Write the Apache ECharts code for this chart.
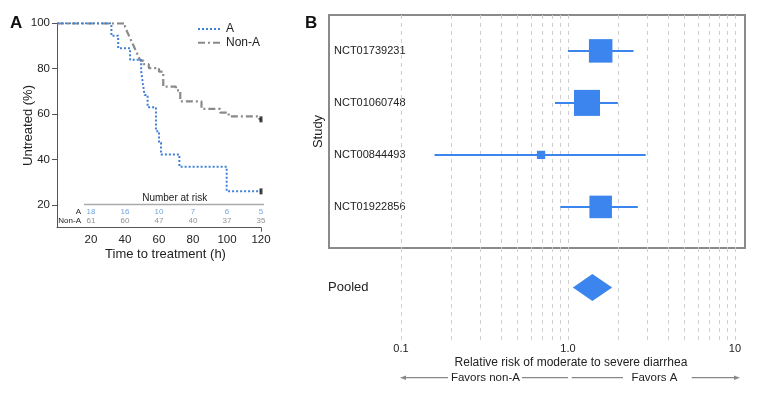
<!DOCTYPE html>
<html><head><meta charset="utf-8">
<script src="https://cdn.jsdelivr.net/npm/echarts@6/dist/echarts.min.js"></script>
<style>html,body{margin:0;padding:0;background:#fff}#c{width:760px;height:400px}</style>
</head><body><div id="c"></div>
<script>
// ---------- Panel A: Kaplan-Meier (time in h, % untreated after each event) ----------
const kmA = [[0,100],[32,94.5],[36,89],[43,84],[49.5,79],[50.5,73.5],[51.5,68.4],[53.3,63],[58.2,52.5],[60,47.5],[61.2,42.2],[72,36.8],[99.8,26],[120,26]];
const kmNonA = [[0,100],[40,98.4],[41,96.7],[42,95.1],[43,93.4],[44,91.8],[45,90.2],[46,88.5],[47,86.9],[48,85.2],[49,83.6],[51,82],[54,80.3],[60,78.7],[62.5,72.1],[70,70.5],[72.5,65.6],[85,62.3],[96,60.7],[101,59],[119,57.7],[120,57.7]];
const censorA = [[120,26]];
const censorNonA = [[120,57.7]];
const riskTimes = [20,40,60,80,100,120];
const riskA = [18,16,10,7,6,5];
const riskNonA = [61,60,47,40,37,35];
const kmYTicks = [20,40,60,80,100];
const kmXTicks = [20,40,60,80,100,120];

// ---------- Panel B: forest plot ----------
const studies = ['NCT01739231','NCT01060748','NCT00844493','NCT01922856'];
const studyRow = [1,2,3,4];
const rr = [1.57,1.30,0.69,1.57];
const rrLow = [1.00,0.836,0.159,0.90];
const rrHigh = [2.47,1.99,2.92,2.62];
const weights = [30.6,37.5,3.8,28.1];
const pooledEst = 1.40, pooledLow = 1.07, pooledHigh = 1.84;
const rrGridLines = [0.1,0.2,0.3,0.4,0.5,0.6,0.7,0.8,0.9,1,2,3,4,5,6,7,8,9,10];
const rrTicks = [0.1,1,10];
const rrTickText = {0.1:'0.1',1:'1.0',10:'10'};

const BLUE = '#3d85ee';
const KM_BLUE = '#3f80d8';
const KM_GRAY = '#8a8a8a';
const TXT = '#222';
const FONT = 'Liberation Sans, Arial, sans-serif';

const chart = echarts.init(document.getElementById('c'), null, {renderer:'canvas'});

const gridMark = (z) => ({
  type:'line', data:[], z:z, silent:true, animation:false,
  markLine:{silent:true, symbol:['none','none'], animation:false,
    label:{show:false},
    lineStyle:{type:[4,4], color:'#cfcfcf', width:1},
    data: rrGridLines.map(v=>({xAxis:v}))}
});

const logAxisBase = {type:'log', logBase:10, min:0.0371, max:11.48};

const option = {
  animation:false,
  backgroundColor:'#fff',
  textStyle:{fontFamily:FONT},
  legend:{
    data:['A','Non-A'], orient:'vertical', left:197, top:23, padding:0,
    itemWidth:23, itemHeight:12, itemGap:1.7,
    itemStyle:{opacity:0},
    textStyle:{fontSize:12, color:TXT}
  },
  grid:[
    {left:57, right:499, top:23.3, bottom:172.3},            // 0: KM
    {left:57, right:499, top:207, height:19},                 // 1: risk table
    {left:329, right:15, top:15, height:233, show:true, borderColor:'#8a8a8a', borderWidth:2}, // 2: studies box
    {left:329, right:15, top:248, height:92}                  // 3: pooled
  ],
  xAxis:[
    {gridIndex:0, type:'value', min:0, max:120,
      axisLine:{lineStyle:{color:'#555'}},
      axisTick:{customValues:[120], length:4, lineStyle:{color:'#555'}},
      axisLabel:{customValues:kmXTicks, fontSize:11.5, color:TXT, margin:6},
      splitLine:{show:false},
      name:'Time to treatment (h)', nameLocation:'middle', nameGap:20, nameMoveOverlap:false,
      nameTextStyle:{fontSize:13, color:TXT, padding:[0,0,0,13]}},
    {gridIndex:1, type:'value', min:0, max:120, show:false},
    Object.assign({gridIndex:2, show:false}, logAxisBase),
    Object.assign({gridIndex:3,
      axisLine:{show:false}, axisTick:{show:false}, splitLine:{show:false},
      axisLabel:{customValues:rrTicks, formatter:v=>rrTickText[v] || String(v), fontSize:11, color:TXT, margin:3},
      name:'Relative risk of moderate to severe diarrhea', nameLocation:'middle', nameGap:17, nameMoveOverlap:false,
      nameTextStyle:{fontSize:12, color:TXT, padding:[0,0,0,68]}}, logAxisBase)
  ],
  yAxis:[
    {gridIndex:0, type:'value', min:10, max:100,
      axisLine:{show:true, lineStyle:{color:'#555'}},
      axisTick:{show:true, customValues:kmYTicks, length:5, lineStyle:{color:'#555'}},
      axisLabel:{customValues:kmYTicks, fontSize:11.5, color:TXT, margin:7},
      splitLine:{show:false},
      name:'Untreated (%)', nameLocation:'middle', nameGap:22, nameMoveOverlap:false,
      nameTextStyle:{fontSize:13, color:TXT}},
    {gridIndex:1, type:'category', data:['A','Non-A'], inverse:true,
      axisLine:{show:false}, axisTick:{show:false},
      axisLabel:{fontSize:8, color:TXT, margin:-24, interval:0, hideOverlap:false}},
    {gridIndex:2, type:'value', inverse:true, min:0.31, max:4.79,
      axisLine:{show:false}, axisTick:{show:false}, splitLine:{show:false},
      axisLabel:{customValues:studyRow, formatter:v=>studies[v-1] || '', inside:true, margin:5, fontSize:11, color:TXT},
      name:'Study', nameLocation:'middle', nameGap:4, nameMoveOverlap:false,
      nameTextStyle:{fontSize:13, color:TXT}},
    {gridIndex:3, type:'value', inverse:true, min:0, max:2.33,
      axisLine:{show:false}, axisTick:{show:false}, splitLine:{show:false},
      axisLabel:{customValues:[1], formatter:()=> 'Pooled', inside:true, margin:-1, fontSize:13, color:TXT}}
  ],
  series:[
    {name:'A', type:'line', xAxisIndex:0, yAxisIndex:0, step:'end', data:kmA,
      symbol:'none', color:KM_BLUE, lineStyle:{color:KM_BLUE, width:2, type:[2,2]}, z:3},
    {name:'Non-A', type:'line', xAxisIndex:0, yAxisIndex:0, step:'end', data:kmNonA,
      symbol:'none', color:KM_GRAY, lineStyle:{color:KM_GRAY, width:2.2, type:[7,3,2,3]}, z:2},
    {type:'scatter', xAxisIndex:0, yAxisIndex:0, data:censorA.concat(censorNonA),
      symbol:'rect', symbolSize:[3,6], itemStyle:{color:'#111'}, z:4, silent:true},
    {type:'scatter', xAxisIndex:1, yAxisIndex:1, symbol:'circle', symbolSize:1,
      itemStyle:{color:'rgba(0,0,0,0)'},
      data: riskTimes.map((t,i)=>[t,'A',riskA[i]]),
      label:{show:true, position:'inside', formatter:p=>p.value[2], fontSize:8, color:'#4f8bd6'}},
    {type:'scatter', xAxisIndex:1, yAxisIndex:1, symbol:'circle', symbolSize:1,
      itemStyle:{color:'rgba(0,0,0,0)'},
      data: riskTimes.map((t,i)=>[t,'Non-A',riskNonA[i]]),
      label:{show:true, position:'inside', formatter:p=>p.value[2], fontSize:8, color:'#777'}},
    Object.assign(gridMark(1), {xAxisIndex:2, yAxisIndex:2}),
    Object.assign(gridMark(1), {xAxisIndex:3, yAxisIndex:3}),
    {type:'custom', xAxisIndex:2, yAxisIndex:2, z:5,
      data: studies.map((s,i)=>[rrLow[i], rrHigh[i], rr[i], studyRow[i], weights[i]]),
      encode:{x:[0,1,2], y:3},
      renderItem:(params, api)=>{
        const y = api.value(3);
        const p1 = api.coord([api.value(0), y]);
        const p2 = api.coord([api.value(1), y]);
        const pc = api.coord([api.value(2), y]);
        const s = Math.sqrt(api.value(4))*4.25;
        return {type:'group', children:[
          {type:'line', shape:{x1:p1[0], y1:p1[1], x2:p2[0], y2:p2[1]}, style:{stroke:BLUE, lineWidth:2}},
          {type:'rect', shape:{x:pc[0]-s/2, y:pc[1]-s/2, width:s, height:s}, style:{fill:BLUE}}
        ]};
      }},
    {type:'custom', xAxisIndex:3, yAxisIndex:3, z:5,
      data:[[pooledLow, pooledHigh, pooledEst, 1]],
      encode:{x:[0,1,2], y:3},
      renderItem:(params, api)=>{
        const y = api.value(3);
        const pl = api.coord([api.value(0), y]);
        const ph = api.coord([api.value(1), y]);
        const pc = api.coord([api.value(2), y]);
        const h = 13.5;
        return {type:'polygon', shape:{points:[[pl[0],pl[1]],[pc[0],pc[1]-h],[ph[0],ph[1]],[pc[0],pc[1]+h]]}, style:{fill:BLUE}};
      }}
  ],
  graphic:[
    {type:'text', left:10, top:15, style:{text:'A', font:'bold 17px ' + FONT, fill:'#111'}},
    {type:'text', left:305, top:15, style:{text:'B', font:'bold 17px ' + FONT, fill:'#111'}},
    {type:'text', x:174.7, y:198, style:{text:'Number at risk', font:'10px ' + FONT, fill:TXT, align:'center', verticalAlign:'middle'}},
    {type:'line', shape:{x1:84, y1:204.5, x2:264, y2:204.5}, style:{stroke:'#aaa', lineWidth:1.5}},
    // favors arrows
    {type:'line', shape:{x1:404, y1:377.7, x2:448, y2:377.7}, style:{stroke:'#888', lineWidth:1.2}},
    {type:'polygon', shape:{points:[[400,377.7],[406,375.5],[406,379.9]]}, style:{fill:'#888'}},
    {type:'text', x:485.4, y:377.7, style:{text:'Favors non-A', font:'11.5px ' + FONT, fill:TXT, align:'center', verticalAlign:'middle'}},
    {type:'line', shape:{x1:522, y1:377.7, x2:568, y2:377.7}, style:{stroke:'#888', lineWidth:1.2}},
    {type:'line', shape:{x1:571.7, y1:377.7, x2:623, y2:377.7}, style:{stroke:'#888', lineWidth:1.2}},
    {type:'text', x:654.4, y:377.7, style:{text:'Favors A', font:'11.5px ' + FONT, fill:TXT, align:'center', verticalAlign:'middle'}},
    {type:'line', shape:{x1:691.7, y1:377.7, x2:735, y2:377.7}, style:{stroke:'#888', lineWidth:1.2}},
    {type:'polygon', shape:{points:[[740,377.7],[734,375.5],[734,379.9]]}, style:{fill:'#888'}}
  ]
};
chart.setOption(option);
</script>
</body></html>
